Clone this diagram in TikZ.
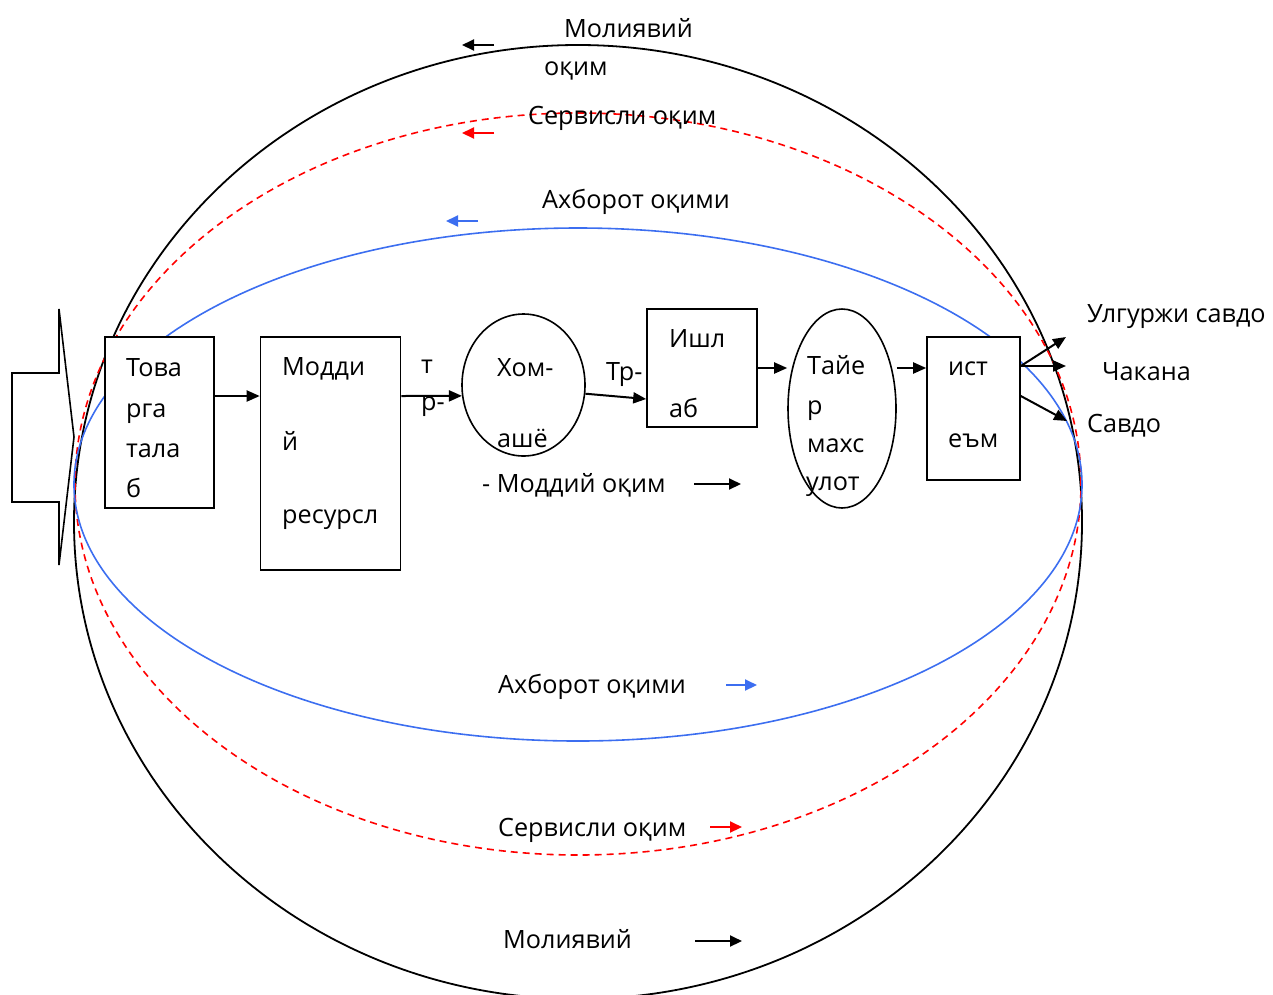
\documentclass[tikz,border=0pt]{standalone}
\usepackage{fontspec}
\setmainfont{Open Sans}
\usetikzlibrary{arrows.meta,shapes.geometric}
\definecolor{flowblue}{RGB}{60,110,240}
\definecolor{flowred}{RGB}{255,0,0}
\begin{document}
\begin{tikzpicture}[x=1pt,y=-1pt,
  txt/.style={anchor=base west, inner sep=0pt, font=\fontsize{25.2}{30}\selectfont},
  boxnode/.style={draw, line width=1.6pt, fill=white, inner sep=0pt},
  ovalnode/.style={draw, ellipse, line width=1.6pt, fill=white, inner sep=0pt},
  flow/.style={line width=2pt, -{Triangle[length=13pt,width=11pt]}},
  small/.style={line width=2pt, -{Triangle[length=12pt,width=11pt]}},
  ringblack/.style={line width=1.8pt, black},
  ringred/.style={line width=1.6pt, flowred, dash pattern=on 7pt off 5pt},
  ringblue/.style={line width=1.6pt, flowblue}]
\useasboundingbox (0,0) rectangle (1273,994);

% flow rings
\draw[ringblack] (578,522) ellipse [x radius=504pt, y radius=477pt];
\draw[ringred] (578,484) ellipse [x radius=503pt, y radius=371pt];
\draw[ringblue] (578,484.5) ellipse [x radius=504pt, y radius=256.5pt];

% left demand arrow shape
\draw[line width=1.6pt, line join=miter] (12,373) -- (59,373) -- (59,309) -- (74,437) -- (59,565) -- (59,502) -- (12,502) -- cycle;

% nodes
\node[boxnode, minimum width=109pt, minimum height=171pt] (b1) at (159.5,422.5) {};
\node[boxnode, minimum width=140pt, minimum height=233pt] (b2) at (330.5,453.5) {};
\node[ovalnode, minimum width=123pt, minimum height=142pt] (hom) at (523.5,385) {};
\node[boxnode, minimum width=110pt, minimum height=118pt] (b3) at (702,368) {};
\node[ovalnode, minimum width=108pt, minimum height=199pt] (tay) at (842,408.5) {};
\node[boxnode, minimum width=93pt, minimum height=143pt] (b4) at (973.5,408.5) {};

% texts
\node[txt] (t1) at (564,37) {Молиявий};
\node[txt] (t2) at (544,75) {оқим};
\node[txt] (t3) at (528,124) {Сервисли оқим};
\node[txt] (t4) at (542,208) {Ахборот оқими};

\node[txt] (b1a) at (126,376) {Това};
\node[txt] (b1b) at (126,417) {рга};
\node[txt] (b1c) at (126,457) {тала};
\node[txt] (b1d) at (126,497) {б};

\node[txt] (b2a) at (282,375) {Модди};
\node[txt] (b2b) at (282,450) {й};
\node[txt] (b2c) at (282,523) {ресурсл};

\node[txt] (la) at (421,373) {т};
\node[txt] (lb) at (421,410) {р-};
\node[txt] (ha) at (497,376) {Хом-};
\node[txt] (hb) at (497,447) {ашё};
\node[txt] (lc) at (606,380) {Тр-};
\node[txt] (b3a) at (669,347) {Ишл};
\node[txt] (b3b) at (669,417) {аб};
\node[txt] (ta) at (807,374) {Тайе};
\node[txt] (tb) at (807,414) {р};
\node[txt] (tc) at (807,452) {махс};
\node[txt] (td) at (806,490) {улот};
\node[txt] (b4a) at (948,375) {ист};
\node[txt] (b4b) at (948,447) {еъм};

\node[txt] (r1) at (1087,322) {Улгуржи савдо};
\node[txt] (r2) at (1102,380) {Чакана};
\node[txt] (r3) at (1087,432) {Савдо};

\node[txt] (md) at (482,492) {- Моддий оқим};
\node[txt] (bt1) at (498,693) {Ахборот оқими};
\node[txt] (bt2) at (498,836) {Сервисли оқим};
\node[txt] (bt3) at (503,948) {Молиявий};

% connectors
\draw[flow] (b1.east |- 0,396) -- (b2.west |- 0,396);
\draw[flow] (b2.east |- 0,396) -- (hom.190);
\draw[flow] (hom.352) -- (b3.west |- 0,399);
\draw[flow] (b3.east) -- (tay.west |- b3.east);
\draw[flow] (tay.east |- 0,368) -- (b4.west |- 0,368);
\coordinate (out1) at (1066,337);
\coordinate (out2) at (1066,366);
\coordinate (out3) at (1067,421);
\draw[flow] (b4.east |- 0,366) -- (out1);
\draw[flow] (b4.east |- 0,366) -- (out2);
\draw[flow] (b4.east |- 0,396) -- (out3);

% direction markers
\coordinate (m1s) at (494,45);  \coordinate (m1e) at (462,45);
\coordinate (m2s) at (494,133); \coordinate (m2e) at (462,133);
\coordinate (m3s) at (478,221); \coordinate (m3e) at (446,221);
\coordinate (m4s) at (694,484); \coordinate (m4e) at (741,484);
\coordinate (m5s) at (726,685); \coordinate (m5e) at (757,685);
\coordinate (m6s) at (710,827); \coordinate (m6e) at (742,827);
\coordinate (m7s) at (695,941); \coordinate (m7e) at (742,941);
\draw[small] (m1s) -- (m1e);
\draw[small, flowred] (m2s) -- (m2e);
\draw[small, flowblue] (m3s) -- (m3e);
\draw[small] (m4s) -- (m4e);
\draw[small, flowblue] (m5s) -- (m5e);
\draw[small, flowred] (m6s) -- (m6e);
\draw[small] (m7s) -- (m7e);
\end{tikzpicture}
\end{document}
